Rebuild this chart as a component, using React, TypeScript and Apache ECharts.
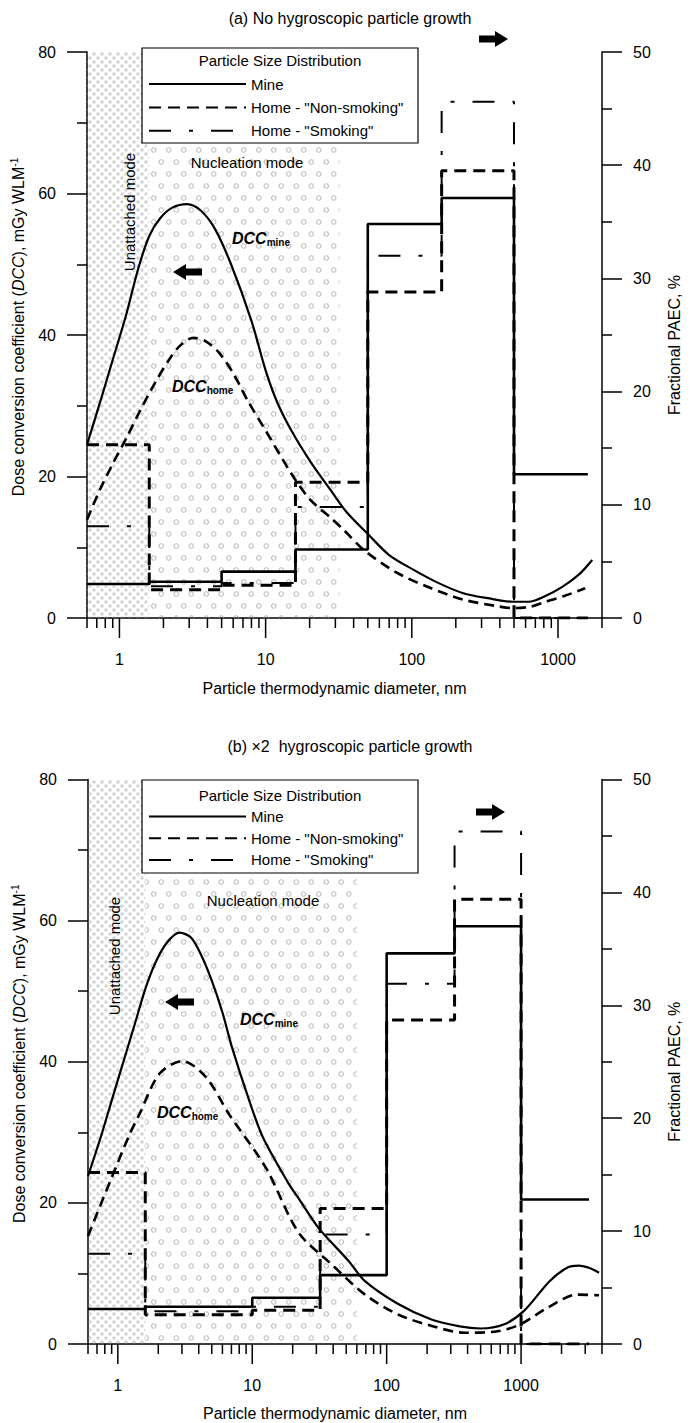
import React, { useEffect, useRef } from 'react';
import * as echarts from 'echarts';

const FONT = '"Liberation Sans", Arial, Helvetica, sans-serif';

// ---------- Panel (a): no hygroscopic growth ----------
const binEdgesA = [0.6, 1.6, 5, 16, 50, 160, 500, 1600];
const mineA = [3.0, 3.2, 4.1, 6.05, 34.8, 37.1, 12.7];
const nonSmokingA = [15.3, 2.5, 2.9, 12.0, 28.8, 39.5, 0];
const smokingA = [8.1, 2.8, 3.1, 9.8, 32.0, 45.6, 0];

const dccMineA = [
  [0.6, 24.5], [0.75, 31], [0.9, 36.5], [1.1, 42.5], [1.35, 49.5], [1.6, 54], [1.9, 56.5],
  [2.3, 58], [2.9, 58.5], [3.6, 57.6], [4.5, 55], [5.8, 50], [8, 42], [10, 35], [12, 30.5],
  [15, 26.5], [20.4, 22], [27.8, 18.1], [36, 14.9], [51, 11.7], [70, 8.9],
  [103, 6.8], [150, 5], [225, 3.5], [330, 2.8], [490, 2.3], [630, 2.3], [800, 3.0],
  [1070, 4.4], [1400, 6.2], [1714, 8.2],
];
const dccHomeA = [
  [0.6, 13.9], [0.73, 18], [0.9, 21.8], [1.12, 25.5], [1.4, 29.5], [1.78, 33.5], [2.2, 36.6],
  [2.6, 38.5], [3.2, 39.6], [3.9, 39.1], [4.8, 37.5], [6.0, 34.6], [7.6, 30.6], [10, 26.5],
  [14.9, 20.5], [20, 16.8], [27.8, 14.2], [34.4, 12.4], [47, 9.6], [79, 6.4], [132, 4.3],
  [225, 2.6], [377, 1.7], [490, 1.4], [650, 1.6], [823, 2.3], [1100, 3.1], [1536, 4.2],
];
const unattachedA = [0.6, 1.6];
const nucleationA = [1.6, 32];
const xMinorTicksA = [0.6, 0.7, 0.8, 0.9, 2, 3, 4, 5, 6, 7, 8, 9, 20, 30, 40, 50, 60, 70, 80, 90,
  200, 300, 400, 500, 600, 700, 800, 900, 2000];

// ---------- Panel (b): x2 hygroscopic growth ----------
const binEdgesB = [0.6, 1.6, 10, 32, 100, 320, 1000, 3200];
const mineB = [3.1, 3.3, 4.1, 6.1, 34.6, 37.0, 12.8];
const nonSmokingB = [15.2, 2.6, 3.0, 12.0, 28.7, 39.4, 0];
const smokingB = [8.0, 2.9, 3.3, 9.7, 31.9, 45.4, 0];

const dccMineB = [
  [0.6, 23.8], [0.76, 29.8], [0.9, 34.5], [1.1, 40], [1.35, 45.6], [1.6, 50.3], [1.9, 54],
  [2.3, 56.8], [2.87, 58.3], [3.5, 57.6], [4.2, 55], [5.0, 51.5], [6.0, 47], [7.08, 42],
  [9.5, 34.5], [12, 29.3], [18.7, 22.7], [22.2, 20.6], [31, 16.5], [51.9, 11.8], [69, 8.9],
  [121, 5.7], [213, 3.5], [350, 2.5], [497, 2.2], [750, 2.8], [1050, 4.7], [1630, 8.9],
  [2200, 10.8], [2690, 11.1], [3300, 10.7], [3800, 10.1],
];
const dccHomeB = [
  [0.6, 15.3], [0.87, 22.9], [1.23, 29.8], [1.45, 32.6], [2.04, 38.3], [3.03, 40.1],
  [4.54, 37.8], [6.7, 32.6], [12.6, 25.0], [22.1, 15.8], [38.9, 11.3], [69, 7.0], [121, 4.2],
  [213, 2.6], [378, 1.6], [667, 1.8], [990, 2.8], [1560, 5.1], [2610, 7.0], [3800, 6.9],
];
const unattachedB = [0.6, 1.6];
const nucleationB = [1.6, 60];
const xMinorTicksB = [0.6, 0.7, 0.8, 0.9, 2, 3, 4, 5, 6, 7, 8, 9, 20, 30, 40, 50, 60, 70, 80, 90,
  200, 300, 400, 500, 600, 700, 800, 900, 2000, 3000, 4000];

const xMajorTicks = [1, 10, 100, 1000];
const seriesNames = ['Mine', 'Home - "Non-smoking"', 'Home - "Smoking"'];

// ---------- helpers ----------
const svgUrl = (s: string) => 'data:image/svg+xml;charset=utf-8,' + encodeURIComponent(s);
const densePattern = {
  image: svgUrl(
    '<svg xmlns="http://www.w3.org/2000/svg" width="8" height="8">' +
      '<circle cx="2" cy="2" r="1.25" fill="none" stroke="#a0a0a0" stroke-width="0.6"/>' +
      '<circle cx="6" cy="6" r="1.25" fill="none" stroke="#a0a0a0" stroke-width="0.6"/></svg>'
  ),
  repeat: 'repeat',
  imageWidth: 8,
  imageHeight: 8,
};
const circlePattern = {
  image: svgUrl(
    '<svg xmlns="http://www.w3.org/2000/svg" width="15" height="24">' +
      '<circle cx="3.75" cy="6" r="2.3" fill="none" stroke="#a5a5a5" stroke-width="0.8"/>' +
      '<circle cx="11.25" cy="18" r="2.3" fill="none" stroke="#a5a5a5" stroke-width="0.8"/></svg>'
  ),
  repeat: 'repeat',
  imageWidth: 15,
  imageHeight: 24,
};

const stepData = (edges: number[], vals: number[]) => {
  const d = vals.map((v, i) => [edges[i], v]);
  d.push([edges[edges.length - 1], vals[vals.length - 1]]);
  return d;
};

const fmtLog = (v: number) => {
  const l = Math.log10(v);
  return Math.abs(l - Math.round(l)) < 1e-6 ? String(Math.round(v)) : '';
};

const tickRender = (_params: any, api: any) => {
  const v = api.value(0);
  const major = api.value(1) === 1;
  const p = api.coord([v, 0]);
  return {
    type: 'line',
    shape: { x1: p[0], y1: p[1], x2: p[0], y2: p[1] + (major ? 20 : 10) },
    style: { stroke: '#000', lineWidth: 1.5 },
  };
};

const arrow = (x0: number, yc: number, dir: 1 | -1, z = 6) => {
  const L = 29, head = 13, hh = 8, sh = 3.5;
  let pts: number[][];
  if (dir === 1) {
    pts = [[x0, yc - sh], [x0 + L - head, yc - sh], [x0 + L - head, yc - hh], [x0 + L, yc],
      [x0 + L - head, yc + hh], [x0 + L - head, yc + sh], [x0, yc + sh]];
  } else {
    pts = [[x0, yc], [x0 + head, yc - hh], [x0 + head, yc - sh], [x0 + L, yc - sh],
      [x0 + L, yc + sh], [x0 + head, yc + sh], [x0 + head, yc + hh]];
  }
  return { type: 'polygon', shape: { points: pts }, style: { fill: '#000' }, z, silent: true };
};

const txt = (text: string, x: number, y: number, size: number, extra: any = {}) => ({
  type: 'text',
  x,
  y,
  z: 6,
  silent: true,
  ...extra,
  style: {
    text,
    fontSize: size,
    fontFamily: FONT,
    fill: '#000',
    align: 'center',
    textAlign: 'center',
    verticalAlign: 'middle',
    textVerticalAlign: 'middle',
    ...(extra.style || {}),
  },
});

const dccLabel = (sub: string, x: number, y: number) => ({
  type: 'text',
  x,
  y,
  z: 6,
  silent: true,
  style: {
    text: `{a|DCC}{b|${sub}}`,
    align: 'left',
    textAlign: 'left',
    verticalAlign: 'middle',
    textVerticalAlign: 'middle',
    rich: {
      a: { fontSize: 16, fontWeight: 'bold', fontStyle: 'italic', fontFamily: FONT, fill: '#000', lineHeight: 18 },
      b: { fontSize: 10, fontWeight: 'bold', fontFamily: FONT, fill: '#000', lineHeight: 12, verticalAlign: 'bottom' },
    },
  },
});

const panels = [
  {
    grid: { left: 87, width: 520, top: 52, height: 566 },
    xMax: 2000,
    edges: binEdgesA, mine: mineA, non: nonSmokingA, smk: smokingA,
    dccMine: dccMineA, dccHome: dccHomeA,
    unattached: unattachedA, nucleation: nucleationA, minor: xMinorTicksA,
    title: '(a) No hygroscopic particle growth', titleY: 18,
    box: { x: 142, y: 48, w: 276, h: 95 }, boxTitleY: 60.5, legendTop: 76.5, legendGap: 8.4,
    leftArrow: [173, 272], rightArrow: [479, 39],
    unattTxt: [129, 212], nuclTxt: [247, 162], dccMineTxt: [232, 238], dccHomeTxt: [172, 386],
    xNameGap: 62,
  },
  {
    grid: { left: 88, width: 517, top: 779.5, height: 564.5 },
    xMax: 4000,
    edges: binEdgesB, mine: mineB, non: nonSmokingB, smk: smokingB,
    dccMine: dccMineB, dccHome: dccHomeB,
    unattached: unattachedB, nucleation: nucleationB, minor: xMinorTicksB,
    title: '(b) \u00d72  hygroscopic particle growth', titleY: 746,
    box: { x: 142, y: 780, w: 276, h: 93 }, boxTitleY: 795, legendTop: 809, legendGap: 6.7,
    leftArrow: [165, 1002], rightArrow: [476, 812],
    unattTxt: [114, 956], nuclTxt: [263, 900], dccMineTxt: [240, 1019], dccHomeTxt: [157, 1112],
    xNameGap: 61,
  },
];

function buildOption() {
  const grid: any[] = [];
  const xAxis: any[] = [];
  const yAxis: any[] = [];
  const series: any[] = [];
  const legend: any[] = [];
  const graphic: any[] = [];

  panels.forEach((p, k) => {
    grid.push({ ...p.grid, containLabel: false });
    xAxis.push({
      type: 'log',
      logBase: 10,
      gridIndex: k,
      min: 0.6,
      max: p.xMax,
      axisLine: { show: true, lineStyle: { color: '#000', width: 1.5 } },
      axisTick: { show: false },
      minorTick: { show: false },
      splitLine: { show: false },
      axisLabel: { margin: 33, fontSize: 16, color: '#000', fontFamily: FONT, formatter: fmtLog },
      name: 'Particle thermodynamic diameter, nm',
      nameLocation: 'middle',
      nameGap: p.xNameGap,
      nameTextStyle: { fontSize: 16, color: '#000', fontFamily: FONT, padding: [0, 20, 0, 0] },
    });
    const yCommon = {
      type: 'value',
      gridIndex: k,
      min: 0,
      axisLine: { show: true, lineStyle: { color: '#000', width: 1.5 } },
      axisTick: { show: true, length: 20, lineStyle: { color: '#000', width: 1.5 } },
      minorTick: { show: true, splitNumber: 2, length: 10, lineStyle: { color: '#000', width: 1.5 } },
      splitLine: { show: false },
      minorSplitLine: { show: false },
      axisLabel: { margin: 31, fontSize: 16, color: '#000', fontFamily: FONT },
      nameLocation: 'middle',
    };
    yAxis.push({
      ...yCommon,
      max: 80,
      interval: 20,
      position: 'left',
      name: 'Dose conversion coefficient ({i|DCC}), mGy WLM{sup|-1}',
      nameGap: 60,
      nameTextStyle: {
        fontSize: 16, color: '#000', fontFamily: FONT, lineHeight: 18, padding: [0, 0, 0, 16],
        rich: {
          i: { fontSize: 16, fontStyle: 'italic', fontFamily: FONT, color: '#000', lineHeight: 18 },
          sup: { fontSize: 10, fontFamily: FONT, color: '#000', lineHeight: 10, verticalAlign: 'top' },
        },
      },
    });
    yAxis.push({
      ...yCommon,
      max: 50,
      interval: 10,
      position: 'right',
      name: 'Fractional PAEC, %',
      nameGap: 64,
      nameTextStyle: { fontSize: 16, color: '#000', fontFamily: FONT, padding: [0, 20, 0, 0] },
    });

    const xi = k;
    const yl = 2 * k;
    const yr = 2 * k + 1;

    // shaded particle-mode regions
    series.push({
      type: 'line',
      name: 'modes',
      xAxisIndex: xi,
      yAxisIndex: yl,
      data: [[1, 0]],
      symbol: 'none',
      lineStyle: { opacity: 0 },
      silent: true,
      z: 1,
      markArea: {
        silent: true,
        data: [
          [{ xAxis: p.unattached[0], itemStyle: { color: densePattern } }, { xAxis: p.unattached[1] }],
          [{ xAxis: p.nucleation[0], itemStyle: { color: circlePattern } }, { xAxis: p.nucleation[1] }],
        ],
      },
    });

    // particle size distributions (right axis)
    series.push({
      name: seriesNames[0], type: 'line', xAxisIndex: xi, yAxisIndex: yr, step: 'end',
      data: stepData(p.edges, p.mine), symbol: 'none', silent: true, z: 4,
      lineStyle: { color: '#000', width: 2.6, type: 'solid' },
      itemStyle: { color: '#000' },
    });
    series.push({
      name: seriesNames[1], type: 'line', xAxisIndex: xi, yAxisIndex: yr, step: 'end',
      data: stepData(p.edges, p.non), symbol: 'none', silent: true, z: 4,
      lineStyle: { color: '#000', width: 3, type: [12, 7] },
      itemStyle: { color: '#000' },
    });
    series.push({
      name: seriesNames[2], type: 'line', xAxisIndex: xi, yAxisIndex: yr, step: 'end',
      data: stepData(p.edges, p.smk), symbol: 'none', silent: true, z: 4,
      lineStyle: { color: '#000', width: 2, type: [22, 18, 4, 18] },
      itemStyle: { color: '#000' },
    });

    // dose conversion coefficient curves (left axis)
    series.push({
      name: 'DCC mine', type: 'line', xAxisIndex: xi, yAxisIndex: yl, smooth: 0.3,
      data: p.dccMine, symbol: 'none', silent: true, z: 3,
      lineStyle: { color: '#000', width: 2.2 },
    });
    series.push({
      name: 'DCC home', type: 'line', xAxisIndex: xi, yAxisIndex: yl, smooth: 0.3,
      data: p.dccHome, symbol: 'none', silent: true, z: 3,
      lineStyle: { color: '#000', width: 2.6, type: [10, 6] },
    });

    // log-axis ticks
    series.push({
      type: 'custom', name: 'xticks', xAxisIndex: xi, yAxisIndex: yl, silent: true, z: 5,
      renderItem: tickRender,
      data: [...p.minor.map((v) => [v, 0]), ...xMajorTicks.map((v) => [v, 1])],
    });

    legend.push({
      data: seriesNames,
      orient: 'vertical',
      left: 148,
      top: p.legendTop,
      padding: 0,
      itemWidth: 97,
      itemHeight: 14,
      itemGap: p.legendGap,
      selectedMode: false,
      z: 10,
      itemStyle: { color: 'rgba(0,0,0,0)', borderWidth: 0, opacity: 0 },
      textStyle: { fontSize: 15, fontFamily: FONT, color: '#000', lineHeight: 15 },
    });

    graphic.push({
      type: 'rect', z: 3, silent: true,
      shape: { x: p.box.x, y: p.box.y, width: p.box.w, height: p.box.h },
      style: { fill: '#fff', stroke: '#000', lineWidth: 1.2 },
    });
    graphic.push(txt('Particle Size Distribution', p.box.x + p.box.w / 2, p.boxTitleY, 15));
    graphic.push(txt(p.title, 350, p.titleY, 16));
    graphic.push(arrow(p.leftArrow[0], p.leftArrow[1], -1));
    graphic.push(arrow(p.rightArrow[0], p.rightArrow[1], 1));
    graphic.push(txt('Unattached mode', p.unattTxt[0], p.unattTxt[1], 15, { rotation: Math.PI / 2 }));
    graphic.push(txt('Nucleation mode', p.nuclTxt[0], p.nuclTxt[1], 15));
    graphic.push(dccLabel('mine', p.dccMineTxt[0], p.dccMineTxt[1]));
    graphic.push(dccLabel('home', p.dccHomeTxt[0], p.dccHomeTxt[1]));
  });

  return {
    animation: false,
    backgroundColor: '#fff',
    textStyle: { fontFamily: FONT },
    grid,
    xAxis,
    yAxis,
    legend,
    series,
    graphic,
  };
}

export default function App() {
  const ref = useRef<HTMLDivElement>(null);
  useEffect(() => {
    document.body.style.margin = '0';
    const chart = echarts.init(ref.current as HTMLDivElement, null, { renderer: 'svg' });
    chart.setOption(buildOption() as any);
    return () => chart.dispose();
  }, []);
  return <div ref={ref} style={{ width: 690, height: 1423 }} />;
}
